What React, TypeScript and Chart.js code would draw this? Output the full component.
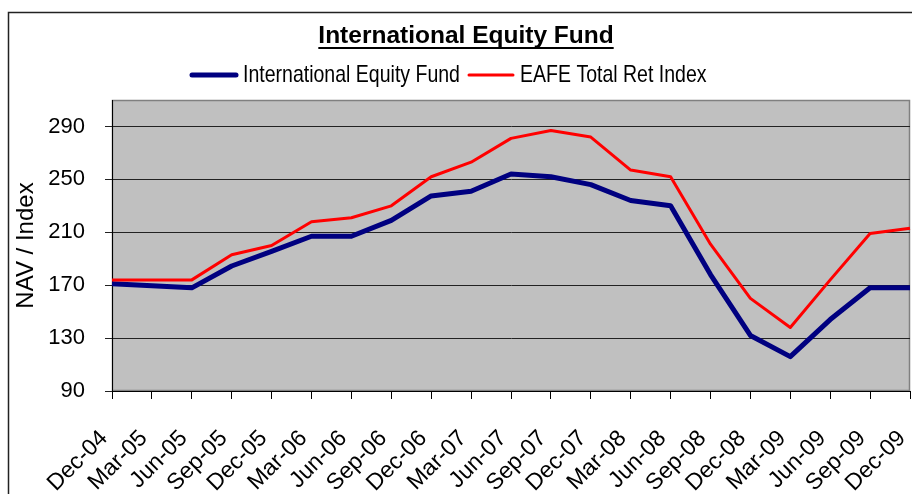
import React, { useEffect, useRef } from "react";
import { Chart, registerables } from "chart.js";

Chart.register(...registerables);

// ---- data ----
const categories = [
  "Dec-04", "Mar-05", "Jun-05", "Sep-05", "Dec-05", "Mar-06", "Jun-06",
  "Sep-06", "Dec-06", "Mar-07", "Jun-07", "Sep-07", "Dec-07", "Mar-08",
  "Jun-08", "Sep-08", "Dec-08", "Mar-09", "Jun-09", "Sep-09", "Dec-09",
];
const fundValues = [
  171, 169.5, 168, 184.5, 195.5, 207, 207, 219, 237.5, 241, 254, 252, 246,
  234, 230, 178, 132, 116, 144, 168, 168,
];
const eafeValues = [
  174, 174, 174, 193, 200, 218, 221, 230, 252, 263, 281, 287, 282, 257, 252,
  201, 160, 138, 174, 209, 213,
];
const yTickValues = [90, 130, 170, 210, 250, 290];
const chartTitle = "International Equity Fund";
const seriesNames = ["International Equity Fund", "EAFE Total Ret Index"];
const yAxisTitle = "NAV / Index";

const NAVY = "#000080";
const RED = "#FF0000";
const SANS = "'Liberation Sans', Arial, sans-serif";

function hasFont(ctx: CanvasRenderingContext2D, family: string) {
  ctx.font = "40px monospace";
  const a = ctx.measureText("International EAFE").width;
  ctx.font = `40px "${family}", monospace`;
  const b = ctx.measureText("International EAFE").width;
  return Math.abs(a - b) > 0.5;
}

export default function App() {
  const ref = useRef<HTMLCanvasElement>(null);

  useEffect(() => {
    const canvas = ref.current!;
    const probe = canvas.getContext("2d")!;
    const narrowOk = hasFont(probe, "Liberation Sans Narrow");

    const drawNarrow = (
      ctx: CanvasRenderingContext2D,
      text: string,
      x: number,
      y: number,
      size: number
    ) => {
      ctx.save();
      ctx.textAlign = "left";
      ctx.textBaseline = "middle";
      ctx.fillStyle = "#000";
      if (narrowOk) {
        ctx.font = `${size}px "Liberation Sans Narrow", sans-serif`;
        ctx.fillText(text, x, y);
      } else {
        ctx.font = `${size}px ${SANS}`;
        ctx.translate(x, y);
        ctx.scale(0.82, 1);
        ctx.fillText(text, 0, 0);
      }
      ctx.restore();
    };

    const chrome = {
      id: "chrome",
      beforeDraw(chart: any) {
        const { ctx, chartArea: a } = chart;
        ctx.save();
        ctx.fillStyle = "#FFFFFF";
        ctx.fillRect(0, 0, chart.width, chart.height);
        ctx.fillStyle = "#C0C0C0";
        ctx.fillRect(a.left, a.top, a.right - a.left, a.bottom - a.top);
        ctx.strokeStyle = "#808080";
        ctx.lineWidth = 1.5;
        ctx.strokeRect(a.left + 0.5, a.top + 0.5, a.right - a.left - 1, a.bottom - a.top - 1);
        ctx.restore();
      },
      afterDraw(chart: any) {
        const { ctx } = chart;
        ctx.save();
        // outer frame
        ctx.strokeStyle = "#222";
        ctx.lineWidth = 1.5;
        ctx.beginPath();
        ctx.moveTo(8.5, chart.height);
        ctx.lineTo(8.5, 12.5);
        ctx.lineTo(chart.width, 12.5);
        ctx.stroke();
        // title
        ctx.fillStyle = "#000";
        ctx.font = `bold 24.5px ${SANS}`;
        ctx.textAlign = "center";
        ctx.textBaseline = "alphabetic";
        ctx.fillText(chartTitle, 466, 43);
        const w = ctx.measureText(chartTitle).width;
        ctx.fillRect(466 - w / 2, 47, w, 2);
        // legend
        ctx.lineCap = "round";
        ctx.strokeStyle = NAVY;
        ctx.lineWidth = 5;
        ctx.beginPath();
        ctx.moveTo(192, 75);
        ctx.lineTo(236, 75);
        ctx.stroke();
        drawNarrow(ctx, seriesNames[0], 243, 75, 23.8);
        ctx.strokeStyle = RED;
        ctx.lineWidth = 3;
        ctx.beginPath();
        ctx.moveTo(469, 75);
        ctx.lineTo(513, 75);
        ctx.stroke();
        drawNarrow(ctx, seriesNames[1], 520, 75, 23.8);
        ctx.restore();
      },
    };

    const chart = new Chart(canvas, {
      type: "line",
      data: {
        labels: categories,
        datasets: [
          {
            label: seriesNames[0],
            data: fundValues,
            borderColor: NAVY,
            backgroundColor: NAVY,
            borderWidth: 5,
            pointRadius: 0,
            tension: 0,
            borderJoinStyle: "round",
            order: 2,
          },
          {
            label: seriesNames[1],
            data: eafeValues,
            borderColor: RED,
            backgroundColor: RED,
            borderWidth: 3,
            pointRadius: 0,
            tension: 0,
            borderJoinStyle: "round",
            order: 1,
          },
        ],
      },
      options: {
        responsive: false,
        animation: false,
        layout: { padding: { left: 8, right: 2, top: 100, bottom: 0 } },
        plugins: {
          legend: { display: false },
          title: { display: false },
          tooltip: { enabled: false },
        },
        scales: {
          x: {
            type: "category",
            offset: false,
            grid: {
              drawOnChartArea: false,
              drawTicks: true,
              tickLength: 8,
              color: "#000",
            },
            border: { color: "#000", width: 1 },
            ticks: {
              autoSkip: false,
              minRotation: 45,
              maxRotation: 45,
              color: "#000",
              padding: 26,
              labelOffset: -8,
              font: { family: SANS, size: 23 },
            },
            afterFit(s: any) {
              s.height = 103;
              s.paddingLeft = 0;
              s.paddingRight = 0;
            },
          },
          y: {
            min: 90,
            max: 310,
            grid: {
              color: "#222",
              drawTicks: true,
              tickLength: 7,
            },
            border: { color: "#000", width: 1 },
            ticks: {
              stepSize: 40,
              color: "#000",
              padding: 20,
              font: { family: SANS, size: 22 },
            },
            afterBuildTicks(s: any) {
              s.ticks = yTickValues.map((v) => ({ value: v }));
            },
            title: {
              display: true,
              text: yAxisTitle,
              color: "#000",
              padding: { top: 4, bottom: 0 },
              font: { family: SANS, size: 24 },
            },
            afterFit(s: any) {
              s.width = 104;
              s.paddingTop = 0;
              s.paddingBottom = 0;
            },
          },
        },
      },
      plugins: [chrome],
    } as any);

    return () => chart.destroy();
  }, []);

  return (
    <div style={{ position: "fixed", left: 0, top: 0, width: 912, height: 494, background: "#fff" }}>
      <canvas ref={ref} width={912} height={494} style={{ display: "block" }} />
    </div>
  );
}
